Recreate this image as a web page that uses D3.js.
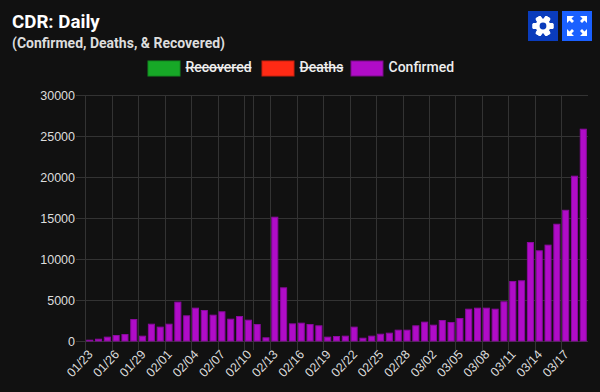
<!DOCTYPE html>
<html>
<head>
<meta charset="utf-8">
<script src="https://cdn.jsdelivr.net/npm/d3@7.9.0/dist/d3.min.js"></script>
<style>
  html, body { margin: 0; padding: 0; background: #111; }
  svg { display: block; font-family: Roboto, sans-serif; }
  .grid line, .axis line { stroke: #333; stroke-width: 1; shape-rendering: crispEdges; }
  .axis path { display: none; }
  .axis text { fill: #ddd; font-family: "Liberation Sans", Arial, sans-serif; font-size: 12.5px; }
</style>
</head>
<body>
<div id="chart"></div>
<script>
const width = 600;
const height = 392;

const dates = ['01/23','01/24','01/25','01/26','01/27','01/28','01/29','01/30','01/31',
  '02/01','02/02','02/03','02/04','02/05','02/06','02/07','02/08','02/09','02/10','02/11',
  '02/12','02/13','02/14','02/15','02/16','02/17','02/18','02/19','02/20','02/21','02/22',
  '02/23','02/24','02/25','02/26','02/27','02/28','02/29','03/01','03/02','03/03','03/04',
  '03/05','03/06','03/07','03/08','03/09','03/10','03/11','03/12','03/13','03/14','03/15',
  '03/16','03/17','03/18','03/19'];
const confirmed = [160,280,530,730,850,2680,650,2110,1750,2110,4800,3130,4065,3780,3210,3620,
  2720,3050,2600,2070,450,15160,6545,2150,2235,2070,1910,530,610,650,1750,400,650,890,1015,
  1380,1380,1910,2360,1990,2560,2320,2800,3940,4065,4065,3940,4840,7320,7400,12070,11060,
  11750,14300,16000,20160,25890];
const yTicks = [0,5000,10000,15000,20000,25000,30000];
const xTicks = dates.filter((d, i) => i % 3 === 0);
const legendItems = [
  { name: 'Recovered', color: '#17a827', border: '#128a20', hidden: true },
  { name: 'Deaths', color: '#ff2a15', border: '#c9200f', hidden: true },
  { name: 'Confirmed', color: '#b00cc8', border: '#7a0a8a', hidden: false },
];

const margin = { top: 95, right: 12, bottom: 51, left: 85 };

const svg = d3.select('#chart').append('svg')
  .attr('width', width)
  .attr('height', height);

const x = d3.scaleBand()
  .domain(dates)
  .range([margin.left + 0.3, width - margin.right - 0.3])
  .paddingInner(0.2)
  .paddingOuter(0.1);

const y = d3.scaleLinear()
  .domain([0, 30000])
  .range([height - margin.bottom, margin.top]);

// category grid sits on the left edge of each band
const gridX = d => x(d) - x.step() * 0.1;

svg.append('g').attr('class', 'grid')
  .selectAll('line.v')
  .data(xTicks.concat(['02/11']))
  .join('line')
  .attr('class', 'v')
  .attr('x1', d => Math.round(gridX(d)) + 0.5)
  .attr('x2', d => Math.round(gridX(d)) + 0.5)
  .attr('y1', margin.top)
  .attr('y2', height - margin.bottom + 9);

svg.append('g').attr('class', 'axis')
  .attr('transform', `translate(${margin.left},0)`)
  .call(d3.axisLeft(y).tickValues(yTicks).tickFormat(d3.format('d'))
    .tickSize(-(width - margin.left - margin.right)).tickPadding(10))
  .call(g => g.selectAll('.tick text').attr('dy', '0.35em'))
  .call(g => g.selectAll('.tick line').attr('x1', -9));

svg.append('g')
  .selectAll('rect')
  .data(confirmed)
  .join('rect')
  .attr('x', (d, i) => x(dates[i]) + 0.5)
  .attr('y', d => y(d) + 0.5)
  .attr('width', x.bandwidth() - 1)
  .attr('height', d => y(0) - y(d) - 0.5)
  .attr('fill', '#b00cc8')
  .attr('stroke', '#8a0a9e')
  .attr('stroke-width', 1);

svg.append('g').attr('class', 'axis')
  .selectAll('text')
  .data(xTicks)
  .join('text')
  .attr('text-anchor', 'end')
  .attr('transform', d => `translate(${gridX(d) + 5},${height - margin.bottom + 11}) rotate(-47)`)
  .attr('dy', '0.35em')
  .text(d => d);

// title block
svg.append('text').attr('x', 12).attr('y', 28)
  .attr('fill', '#fff').attr('font-size', 18.72).attr('font-weight', 700).text('CDR: Daily');
svg.append('text').attr('x', 12).attr('y', 48)
  .attr('fill', '#ddd').attr('font-size', 14).attr('font-weight', 700).text('(Confirmed, Deaths, & Recovered)');

// legend
const legendX = [148, 262, 351];
const legend = svg.append('g').selectAll('g').data(legendItems).join('g')
  .attr('transform', (d, i) => `translate(${legendX[i]},61)`);
legend.append('rect')
  .attr('width', 32).attr('height', 15)
  .attr('fill', d => d.color)
  .attr('stroke', d => d.border);
legend.append('text')
  .attr('x', 37.5).attr('y', 11)
  .attr('fill', '#eee')
  .attr('font-size', 14)
  .attr('font-weight', 500)
  .attr('text-decoration', d => d.hidden ? 'line-through' : null)
  .text(d => d.name);

// buttons
const btns = svg.append('g');
btns.append('rect').attr('x', 528).attr('y', 11).attr('width', 30).attr('height', 30).attr('fill', '#0a3cbc');
btns.append('rect').attr('x', 562).attr('y', 11).attr('width', 30).attr('height', 30).attr('fill', '#1a60ff');

const teeth = d3.range(6).map(i => i * 60);
const gear = btns.append('g').attr('transform', 'translate(543,26)').attr('fill', '#fff');
gear.selectAll('rect').data(teeth).join('rect')
  .attr('x', -3).attr('y', -10.5).attr('width', 6).attr('height', 21)
  .attr('rx', 1.5)
  .attr('transform', d => `rotate(${d + 30})`);
gear.append('circle').attr('r', 7.5);
gear.append('circle').attr('r', 3.4).attr('fill', '#0a3cbc');

const corners = [[-1,-1],[1,-1],[-1,1],[1,1]];
const expand = btns.append('g').attr('transform', 'translate(577,26)');
expand.selectAll('path').data(corners).join('path')
  .attr('fill', '#fff')
  .attr('d', ([sx, sy]) => `M${sx*10},${sy*10}L${sx*3},${sy*10}L${sx*5.5},${sy*7.5}L${sx*3},${sy*5}L${sx*5},${sy*3}L${sx*7.5},${sy*5.5}L${sx*10},${sy*3}Z`);
</script>
</body>
</html>
